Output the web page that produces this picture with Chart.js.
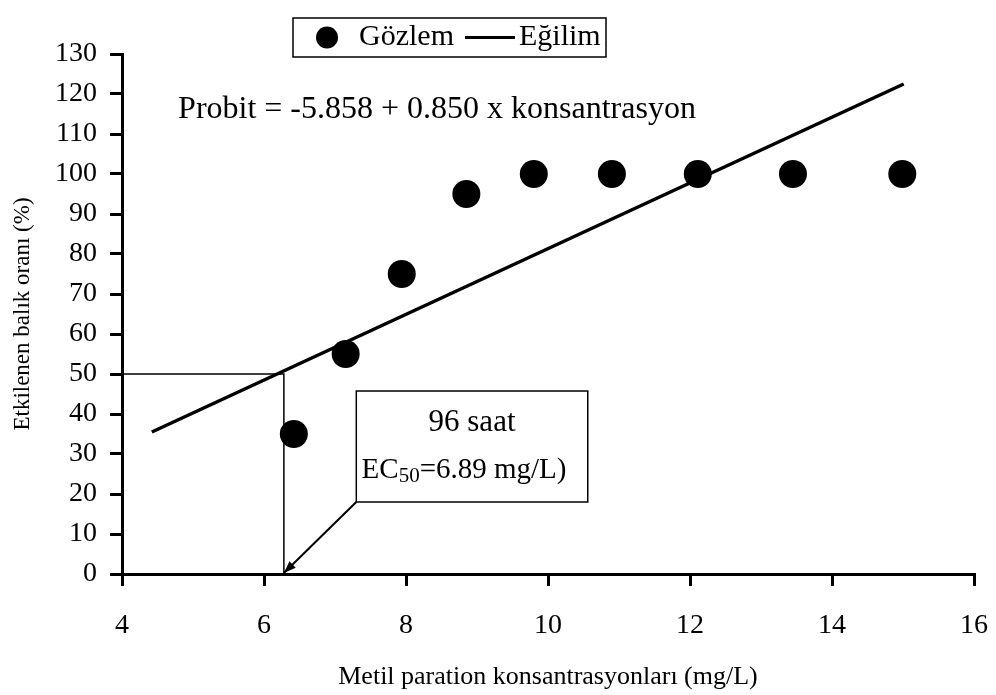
<!DOCTYPE html>
<html>
<head>
<meta charset="utf-8">
<script src="https://cdn.jsdelivr.net/npm/chart.js@4/dist/chart.umd.min.js"></script>
<style>
  html, body { margin: 0; padding: 0; background: #fff; }
</style>
</head>
<body>
<canvas id="chart" width="996" height="695"></canvas>
<script>
// observed points (Gözlem)
const obsX = [6.42, 7.15, 7.94, 8.85, 9.80, 10.90, 12.11, 13.45, 14.99];
const obsY = [35, 55, 75, 95, 100, 100, 100, 100, 100];
// trend line (Eğilim)
const trendX = [4.42, 15.01];
const trendY = [35.5, 122.5];
// EC50 guide lines + note box
const guideX = 6.28;
const guideY = 50;
const boxX = [7.30, 10.56];
const boxY = [18, 45.75];

const FONT = "'Liberation Serif', 'Times New Roman', serif";

const annotations = {
  id: 'annotations',
  afterDatasetsDraw(chart) {
    const ctx = chart.ctx;
    const x = chart.scales.x, y = chart.scales.y;
    ctx.save();
    ctx.strokeStyle = '#000';
    ctx.fillStyle = '#000';
    ctx.lineWidth = 1.5;

    // guide lines
    ctx.beginPath();
    ctx.moveTo(x.getPixelForValue(4), y.getPixelForValue(guideY));
    ctx.lineTo(x.getPixelForValue(guideX), y.getPixelForValue(guideY));
    ctx.lineTo(x.getPixelForValue(guideX), y.getPixelForValue(0));
    ctx.stroke();

    // note box
    const bl = x.getPixelForValue(boxX[0]), br = x.getPixelForValue(boxX[1]);
    const bt = y.getPixelForValue(boxY[1]), bb = y.getPixelForValue(boxY[0]);
    ctx.fillStyle = '#fff';
    ctx.fillRect(bl, bt, br - bl, bb - bt);
    ctx.strokeRect(bl, bt, br - bl, bb - bt);

    // arrow
    const ax = x.getPixelForValue(guideX), ay = y.getPixelForValue(0) - 1;
    ctx.lineWidth = 2;
    ctx.beginPath();
    ctx.moveTo(bl, bb);
    ctx.lineTo(ax, ay);
    ctx.stroke();
    const ang = Math.atan2(ay - bb, ax - bl);
    ctx.fillStyle = '#000';
    ctx.beginPath();
    ctx.moveTo(ax, ay);
    ctx.lineTo(ax - 13 * Math.cos(ang - 0.35), ay - 13 * Math.sin(ang - 0.35));
    ctx.lineTo(ax - 13 * Math.cos(ang + 0.35), ay - 13 * Math.sin(ang + 0.35));
    ctx.closePath();
    ctx.fill();

    // box text
    const cx = (bl + br) / 2;
    ctx.textBaseline = 'middle';
    ctx.textAlign = 'center';
    ctx.font = '31px ' + FONT;
    ctx.fillText('96 saat', cx, bt + 32);
    ctx.textAlign = 'left';
    const big = '29px ' + FONT, small = '21px ' + FONT;
    ctx.font = big; const w1 = ctx.measureText('EC').width, w3 = ctx.measureText('=6.89 mg/L)').width;
    ctx.font = small; const w2 = ctx.measureText('50').width;
    let tx = cx - (w1 + w2 + w3) / 2 - 8;
    const ty = bt + 79;
    ctx.font = big; ctx.fillText('EC', tx, ty); tx += w1;
    ctx.font = small; ctx.fillText('50', tx, ty + 6); tx += w2;
    ctx.font = big; ctx.fillText('=6.89 mg/L)', tx, ty);

    // equation
    ctx.font = '32px ' + FONT;
    ctx.fillText('Probit = -5.858 + 0.850 x konsantrasyon', x.getPixelForValue(4.79), y.getPixelForValue(116));

    // legend box
    const lx = 293, ly = 18, lw = 313, lh = 39;
    ctx.lineWidth = 1.5;
    ctx.strokeRect(lx, ly, lw, lh);
    const my = ly + lh / 2;
    ctx.beginPath();
    ctx.arc(lx + 34, my, 11, 0, Math.PI * 2);
    ctx.fill();
    ctx.font = '30px ' + FONT;
    ctx.fillText(chart.data.datasets[0].label, lx + 66, my);
    ctx.lineWidth = 3;
    ctx.beginPath();
    ctx.moveTo(lx + 172, my);
    ctx.lineTo(lx + 222, my);
    ctx.stroke();
    ctx.fillText(chart.data.datasets[1].label, lx + 226, my);
    ctx.restore();
  }
};

new Chart(document.getElementById('chart'), {
  type: 'scatter',
  data: {
    datasets: [
      {
        label: 'Gözlem',
        data: obsX.map((v, i) => ({ x: v, y: obsY[i] })),
        pointRadius: 14,
        pointHoverRadius: 14,
        backgroundColor: '#000',
        borderColor: '#000',
        borderWidth: 0
      },
      {
        label: 'Eğilim',
        data: trendX.map((v, i) => ({ x: v, y: trendY[i] })),
        showLine: true,
        pointRadius: 0,
        borderColor: '#000',
        borderWidth: 3.5
      }
    ]
  },
  options: {
    responsive: false,
    animation: false,
    devicePixelRatio: 1,
    layout: { padding: { top: 54, right: 22, left: 0, bottom: 0 } },
    plugins: { legend: { display: false }, tooltip: { enabled: false } },
    scales: {
      x: {
        type: 'linear',
        min: 4, max: 16,
        ticks: { stepSize: 2, color: '#000', font: { family: FONT, size: 28 }, padding: 23 },
        grid: { drawOnChartArea: false, tickLength: 12, color: '#000', lineWidth: 3 },
        border: { color: '#000', width: 3 },
        title: { display: true, text: 'Metil paration konsantrasyonları (mg/L)', color: '#000',
                 font: { family: FONT, size: 26 }, padding: { top: 0, bottom: 2 } },
        afterFit(s) { s.height = 121; s.paddingRight = 22; }
      },
      y: {
        min: 0, max: 130,
        ticks: { stepSize: 10, color: '#000', font: { family: FONT, size: 28 }, padding: 13 },
        grid: { drawOnChartArea: false, tickLength: 12, color: '#000', lineWidth: 3 },
        border: { color: '#000', width: 3 },
        title: { display: true, text: 'Etkilenen balık oranı (%)', color: '#000',
                 font: { family: FONT, size: 23 }, padding: { top: 9, bottom: 0 } },
        afterFit(s) { s.width = 122; }
      }
    }
  },
  plugins: [annotations]
});
</script>
</body>
</html>
